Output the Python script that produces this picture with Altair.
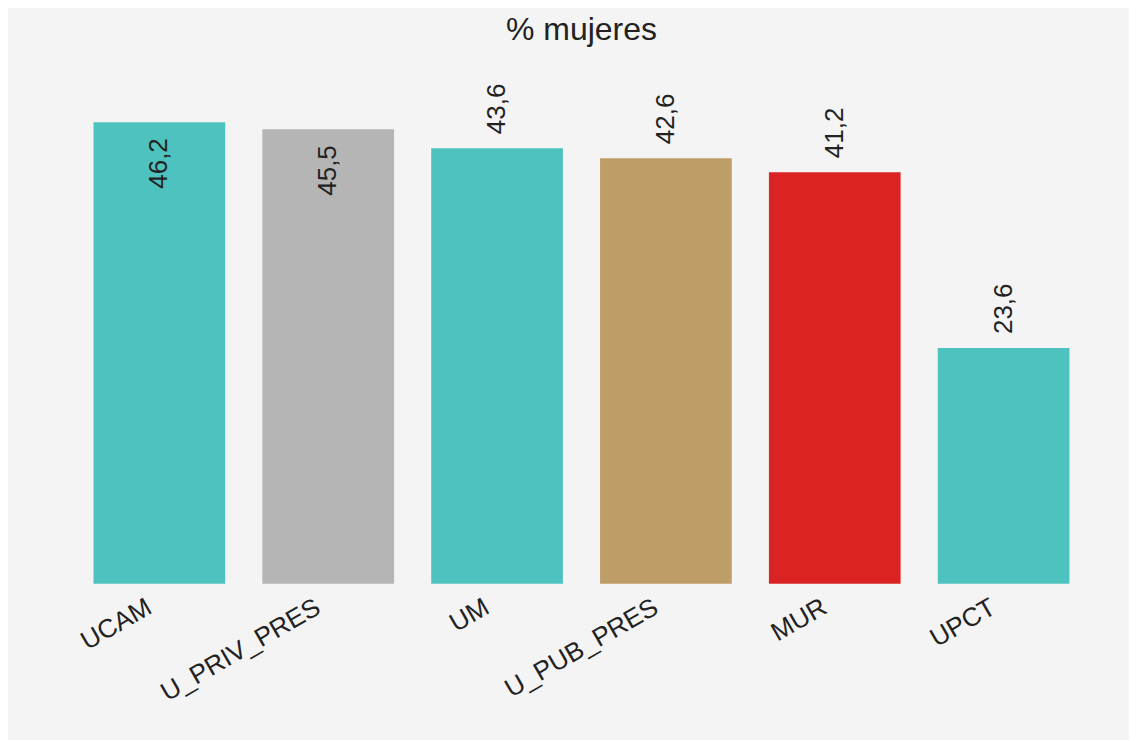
import altair as alt
import pandas as pd

categories = ["UCAM", "U_PRIV_PRES", "UM", "U_PUB_PRES", "MUR", "UPCT"]
values = [46.2, 45.5, 43.6, 42.6, 41.2, 23.6]
labels = ["46,2", "45,5", "43,6", "42,6", "41,2", "23,6"]
colors = ["#4ec2be", "#b5b5b5", "#4ec2be", "#be9d66", "#dc2323", "#4ec2be"]

df = pd.DataFrame({"cat": categories, "val": values, "lab": labels, "col": colors})

FONT = "Liberation Sans"

x = alt.X("cat:N", sort=categories, title=None,
          scale=alt.Scale(paddingInner=0.22, paddingOuter=0.11),
          axis=alt.Axis(labelAngle=-30, labelAlign="right", labelBaseline="middle",
                        labelFontSize=26, labelFont=FONT, labelColor="#222222",
                        labelPadding=21, labelOffset=-10,
                        ticks=False, domain=False, grid=False))
y = alt.Y("val:Q", title=None, scale=alt.Scale(domain=[0, 50], nice=False, zero=True),
          axis=None)

base = alt.Chart(df).encode(x=x, y=y)

bars = base.mark_bar().encode(color=alt.Color("col:N", scale=None))

inside = base.transform_filter(alt.datum.val >= 45).mark_text(
    angle=270, align="right", baseline="middle", dx=-16,
    fontSize=26, font=FONT, color="#222222").encode(text="lab:N")
outside = base.transform_filter(alt.datum.val < 45).mark_text(
    angle=270, align="left", baseline="middle", dx=14,
    fontSize=26, font=FONT, color="#222222").encode(text="lab:N")

chart = (bars + inside + outside).properties(
    width=1014, height=500,
    title=alt.TitleParams("% mujeres", fontSize=32, font=FONT, fontWeight="normal",
                          color="#222222", anchor="middle", offset=37),
    autosize=alt.AutoSizeParams(type="none"),
    padding={"left": 67, "top": 76, "right": 41, "bottom": 156},
    background="#f4f4f4",
).configure_view(stroke=None)

chart.save("out.html", embed_options={"renderer": "svg", "actions": False})
